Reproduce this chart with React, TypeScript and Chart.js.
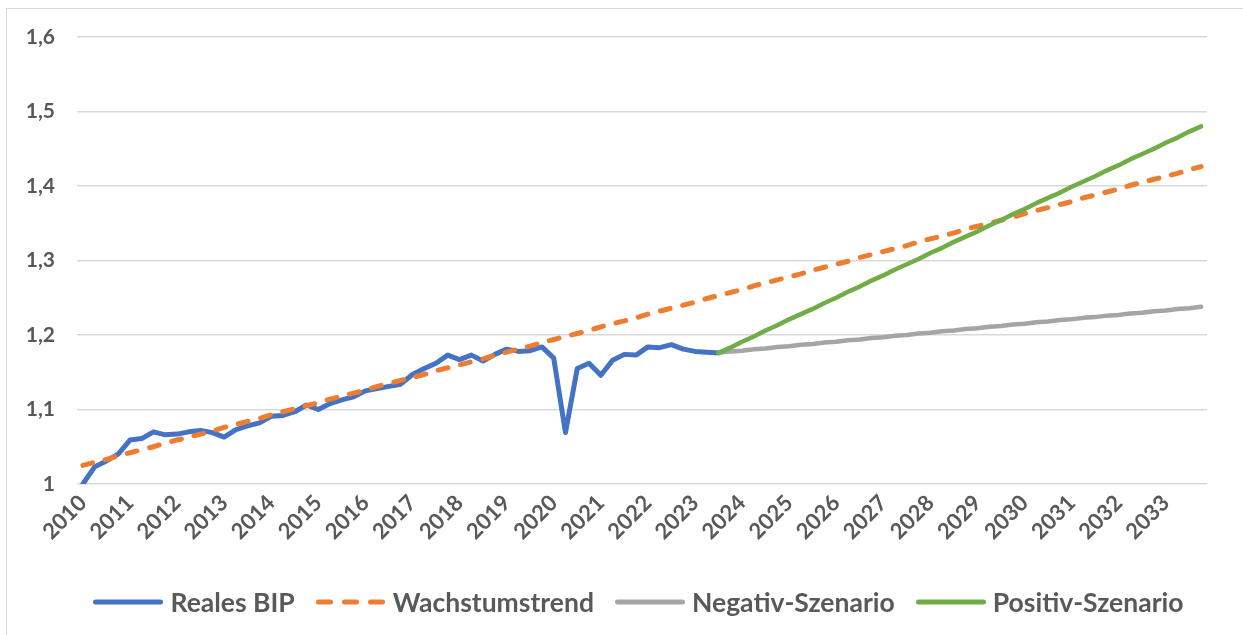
import { useEffect, useRef } from 'react';
import { Chart, registerables } from 'chart.js';

Chart.register(...registerables);

const years = [
  '2010', '2011', '2012', '2013', '2014', '2015', '2016', '2017', '2018', '2019', '2020', '2021',
  '2022', '2023', '2024', '2025', '2026', '2027', '2028', '2029', '2030', '2031', '2032', '2033',
];

// quarterly categories: the year is shown on the first quarter only
const categories: string[] = years.flatMap((y) => [y, '', '', '']);

const yTicks = [1.0, 1.1, 1.2, 1.3, 1.4, 1.5, 1.6];

// Reales BIP, 2010 Q1 .. 2023 Q3
const realesBIP = [
  1.000, 1.023, 1.031, 1.040,
  1.059, 1.061, 1.070, 1.066,
  1.067, 1.070, 1.072, 1.069,
  1.063, 1.073, 1.078, 1.082,
  1.091, 1.092, 1.097, 1.106,
  1.100, 1.108, 1.113, 1.117,
  1.125, 1.128, 1.131, 1.134,
  1.147, 1.155, 1.162, 1.173,
  1.167, 1.173, 1.165, 1.174,
  1.181, 1.178, 1.179, 1.184,
  1.169, 1.069, 1.155, 1.162,
  1.146, 1.166, 1.174, 1.173,
  1.184, 1.183, 1.187, 1.181,
  1.178, 1.177, 1.176,
];

// Wachstumstrend, 2010 Q1 .. 2033 Q4
const wachstumstrend = [
  1.025, 1.029, 1.033, 1.038, 1.042, 1.046, 1.050, 1.055,
  1.059, 1.063, 1.067, 1.071, 1.076, 1.080, 1.084, 1.088,
  1.093, 1.097, 1.101, 1.105, 1.109, 1.114, 1.118, 1.122,
  1.126, 1.131, 1.135, 1.139, 1.143, 1.147, 1.152, 1.156,
  1.160, 1.164, 1.168, 1.173, 1.177, 1.181, 1.185, 1.190,
  1.194, 1.198, 1.202, 1.206, 1.211, 1.215, 1.219, 1.223,
  1.228, 1.232, 1.236, 1.240, 1.244, 1.249, 1.253, 1.257,
  1.261, 1.266, 1.270, 1.274, 1.278, 1.282, 1.287, 1.291,
  1.295, 1.299, 1.304, 1.308, 1.312, 1.316, 1.320, 1.325,
  1.329, 1.333, 1.337, 1.342, 1.346, 1.350, 1.354, 1.358,
  1.363, 1.367, 1.371, 1.375, 1.379, 1.384, 1.388, 1.392,
  1.396, 1.401, 1.405, 1.409, 1.413, 1.417, 1.422, 1.426,
];

// scenarios start at 2023 Q3 (index 54) and run to 2033 Q4
const scenarioStart = 54;

const negativSzenario = [
  1.176, 1.178, 1.179, 1.181, 1.182, 1.184, 1.185, 1.187, 1.188, 1.190,
  1.191, 1.193, 1.194, 1.196, 1.197, 1.199, 1.200, 1.202, 1.203, 1.205,
  1.206, 1.208, 1.209, 1.211, 1.212, 1.214, 1.215, 1.217, 1.218, 1.220,
  1.221, 1.223, 1.224, 1.226, 1.227, 1.229, 1.230, 1.232, 1.233, 1.235,
  1.236, 1.238,
];

const positivSzenario = [
  1.176, 1.183, 1.191, 1.198, 1.206, 1.213, 1.221, 1.228, 1.235, 1.243,
  1.250, 1.258, 1.265, 1.273, 1.280, 1.288, 1.295, 1.302, 1.310, 1.317,
  1.325, 1.332, 1.339, 1.347, 1.354, 1.362, 1.369, 1.377, 1.384, 1.391,
  1.399, 1.406, 1.413, 1.421, 1.428, 1.436, 1.443, 1.450, 1.458, 1.465,
  1.473, 1.480,
];

const seriesNames = ['Reales BIP', 'Wachstumstrend', 'Negativ-Szenario', 'Positiv-Szenario'];
const seriesColors = ['#4472C4', '#ED7D31', '#A5A5A5', '#70AD47'];
const seriesDashed = [false, true, false, false];

const pad = (arr: number[]) => [...new Array(scenarioStart).fill(null), ...arr];

const TEXT = '#595959';
const GRID = '#D9D9D9';
const FONT = 'Lato';

export default function App() {
  const ref = useRef<HTMLCanvasElement | null>(null);

  useEffect(() => {
    if (!ref.current) return;
    const common = {
      pointRadius: 0,
      pointHoverRadius: 0,
      tension: 0,
      fill: false,
      borderCapStyle: 'round' as const,
      borderJoinStyle: 'round' as const,
      spanGaps: false,
    };
    const chart = new Chart(ref.current, {
      type: 'line',
      data: {
        labels: categories,
        datasets: [
          { ...common, label: seriesNames[0], data: realesBIP, borderColor: seriesColors[0], backgroundColor: seriesColors[0], borderWidth: 5, order: 4 },
          { ...common, label: seriesNames[1], data: wachstumstrend, borderColor: seriesColors[1], backgroundColor: seriesColors[1], borderWidth: 5, borderDash: [10, 13], order: 3 },
          { ...common, label: seriesNames[2], data: pad(negativSzenario), borderColor: seriesColors[2], backgroundColor: seriesColors[2], borderWidth: 4.5, order: 2 },
          { ...common, label: seriesNames[3], data: pad(positivSzenario), borderColor: seriesColors[3], backgroundColor: seriesColors[3], borderWidth: 4.5, order: 1 },
        ],
      },
      options: {
        responsive: false,
        animation: false,
        devicePixelRatio: 1,
        layout: { padding: { left: 0, right: 36, top: 37, bottom: 66 } },
        plugins: {
          tooltip: { enabled: false },
          legend: { display: false },
        },
        scales: {
          x: {
            type: 'category',
            offset: true,
            grid: { display: false, drawTicks: false },
            border: { display: false },
            ticks: {
              autoSkip: false,
              maxRotation: 45,
              minRotation: 45,
              padding: 6,
              color: TEXT,
              font: { family: FONT, size: 22, weight: 'bold' },
            },
            afterFit: (scale: any) => {
              scale.height = 85;
            },
          },
          y: {
            min: 1,
            max: 1.6,
            afterBuildTicks: (scale: any) => {
              scale.ticks = yTicks.map((v) => ({ value: v }));
            },
            grid: { color: GRID, lineWidth: 1.5, drawTicks: false },
            border: { display: false },
            ticks: {
              padding: 22,
              color: TEXT,
              font: { family: FONT, size: 21, weight: 'bold' },
              callback: (v: any) => (Number(v) === 1 ? '1' : Number(v).toFixed(1).replace('.', ',')),
            },
            afterFit: (scale: any) => {
              scale.width = 77;
            },
          },
        },
      },
    });
    return () => chart.destroy();
  }, []);

  return (
    <div style={{ position: 'absolute', left: 0, top: 0, width: 1243, height: 635, overflow: 'hidden', background: '#fff' }}>
      <div style={{ position: 'absolute', left: 6, top: 8, width: 1400, height: 800, border: `1px solid ${GRID}`, boxSizing: 'border-box' }} />
      <canvas ref={ref} width={1243} height={635} style={{ position: 'absolute', left: 0, top: 0, width: 1243, height: 635 }} />
      <div
        style={{
          position: 'absolute',
          left: 0,
          top: 584,
          width: 1277,
          height: 36,
          display: 'flex',
          alignItems: 'center',
          justifyContent: 'center',
          fontFamily: FONT,
          fontWeight: 700,
          fontSize: 26.5,
          color: TEXT,
          lineHeight: '36px',
          whiteSpace: 'nowrap',
        }}
      >
        {seriesNames.map((name, i) => (
          <div key={name} style={{ display: 'flex', alignItems: 'center', marginLeft: i === 0 ? 0 : 21 }}>
            <svg width={70} height={10} style={{ display: 'block', marginRight: 7 }}>
              <line
                x1={2.5}
                y1={5}
                x2={67.5}
                y2={5}
                stroke={seriesColors[i]}
                strokeWidth={5}
                strokeLinecap="round"
                strokeDasharray={seriesDashed[i] ? '12 14' : undefined}
              />
            </svg>
            <span>{name}</span>
          </div>
        ))}
      </div>
    </div>
  );
}
